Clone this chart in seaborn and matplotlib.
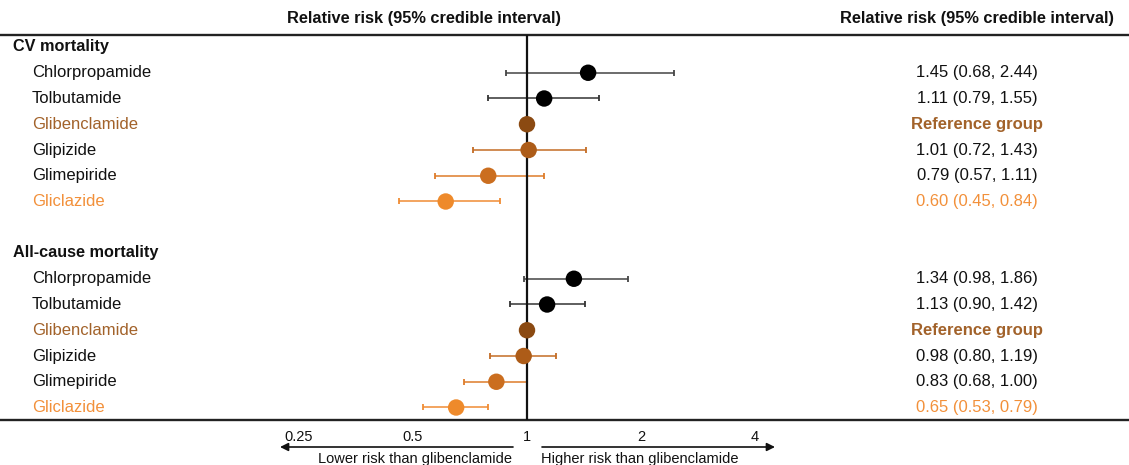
import numpy as np
import pandas as pd
import matplotlib
matplotlib.use("Agg")
import matplotlib.pyplot as plt
import matplotlib.transforms as mtransforms
import seaborn as sns

# ---------------- data ----------------
sections = ["CV mortality", "All-cause mortality"]
drugs = ["Chlorpropamide", "Tolbutamide", "Glibenclamide", "Glipizide", "Glimepiride", "Gliclazide"]
cv_rr = [1.45, 1.11, 1.00, 1.01, 0.79, 0.61]
cv_lo = [0.88, 0.79, np.nan, 0.72, 0.57, 0.46]
cv_hi = [2.44, 1.55, np.nan, 1.43, 1.11, 0.85]
ac_rr = [1.33, 1.13, 1.00, 0.98, 0.83, 0.65]
ac_lo = [0.98, 0.90, np.nan, 0.80, 0.68, 0.53]
ac_hi = [1.85, 1.42, np.nan, 1.19, 1.00, 0.79]
cv_text = ["1.45 (0.68, 2.44)", "1.11 (0.79, 1.55)", "Reference group",
           "1.01 (0.72, 1.43)", "0.79 (0.57, 1.11)", "0.60 (0.45, 0.84)"]
ac_text = ["1.34 (0.98, 1.86)", "1.13 (0.90, 1.42)", "Reference group",
           "0.98 (0.80, 1.19)", "0.83 (0.68, 1.00)", "0.65 (0.53, 0.79)"]
tick_values = [0.25, 0.5, 1, 2, 4]
tick_labels = ["0.25", "0.5", "1", "2", "4"]
header = "Relative risk (95% credible interval)"
lower_text = "Lower risk than glibenclamide"
higher_text = "Higher risk than glibenclamide"

marker_colors = {"Chlorpropamide": "#000000", "Tolbutamide": "#000000",
                 "Glibenclamide": "#8B4A12", "Glipizide": "#AD5C18",
                 "Glimepiride": "#CB6E1F", "Gliclazide": "#EE8A2B"}
bar_colors = {"Chlorpropamide": "#444444", "Tolbutamide": "#333333",
              "Glibenclamide": "#8B4A12", "Glipizide": "#C46C25",
              "Glimepiride": "#DE7C2A", "Gliclazide": "#F08C34"}
label_colors = {"Chlorpropamide": "#111111", "Tolbutamide": "#111111",
                "Glibenclamide": "#A2622A", "Glipizide": "#111111",
                "Glimepiride": "#111111", "Gliclazide": "#F2903A"}

rows = []
for s_i, (sec, rr, lo, hi, txt) in enumerate(zip(sections, [cv_rr, ac_rr], [cv_lo, ac_lo],
                                                   [cv_hi, ac_hi], [cv_text, ac_text])):
    base = s_i * 8
    for d_i, d in enumerate(drugs):
        rows.append(dict(section=sec, drug=d, pos=base + 1 + d_i, rr=rr[d_i],
                         lo=lo[d_i], hi=hi[d_i], text=txt[d_i]))
df = pd.DataFrame(rows)

# ---------------- figure ----------------
sns.set_theme(style="white")
plt.rcParams["font.family"] = ["Liberation Sans", "DejaVu Sans"]
W, H = 1129, 465
fig = plt.figure(figsize=(W / 100, H / 100), dpi=100)
top_px, bot_px = 35, 420
ax = fig.add_axes([0, 1 - bot_px / H, 1, (bot_px - top_px) / H])

x1_px, dbl = 527, 114.0
xmin = 2 ** (-x1_px / dbl)
xmax = 2 ** ((W - x1_px) / dbl)
ax.set_xscale("log")
ax.set_xlim(xmin, xmax)
row0, step = 47, 25.75
ax.set_ylim((bot_px - row0) / step, (top_px - row0) / step)

# error bars
for _, r in df.iterrows():
    if not np.isnan(r["lo"]):
        ax.errorbar([r["rr"]], [r["pos"]], xerr=[[r["rr"] - r["lo"]], [r["hi"] - r["rr"]]],
                    fmt="none", ecolor=bar_colors[r["drug"]], elinewidth=1.1,
                    capsize=2.3, capthick=1.3, zorder=2)

ax.axvline(1, color="#111111", lw=1.6, zorder=3)

sns.scatterplot(data=df, x="rr", y="pos", hue="drug", palette=marker_colors,
                s=140, edgecolor="none", legend=False, ax=ax, zorder=4)

# spines / ticks
for side in ["left", "right"]:
    ax.spines[side].set_visible(False)
for side in ["top", "bottom"]:
    ax.spines[side].set_linewidth(1.7)
    ax.spines[side].set_color("#222222")
ax.set_yticks([])
ax.set_xticks(tick_values)
ax.set_xticklabels(tick_labels, fontsize=10.5, color="#111111")
ax.minorticks_off()
ax.tick_params(axis="x", length=0, pad=7)
ax.set_xlabel("")
ax.set_ylabel("")

# labels
trans = mtransforms.blended_transform_factory(fig.transFigure, ax.transData)
fs = 12
for s_i, sec in enumerate(sections):
    ax.text(13 / W, s_i * 8, sec, transform=trans, fontsize=11.7, fontweight="bold",
            va="center", ha="left", color="#111111")
for _, r in df.iterrows():
    ax.text(32 / W, r["pos"], r["drug"], transform=trans, fontsize=fs, va="center",
            ha="left", color=label_colors[r["drug"]])
    is_ref = r["text"] == "Reference group"
    ax.text(977 / W, r["pos"], r["text"], transform=trans, fontsize=fs, va="center",
            ha="center", color=label_colors[r["drug"]] if r["drug"] in ("Glibenclamide", "Gliclazide") else "#111111",
            fontweight="bold" if is_ref else "normal")

fig.text(424 / W, 1 - 18 / H, header, fontsize=11.8, fontweight="bold", ha="center",
         va="center", color="#111111")
fig.text(977 / W, 1 - 18 / H, header, fontsize=11.8, fontweight="bold", ha="center",
         va="center", color="#111111")

# direction arrows
atr = mtransforms.blended_transform_factory(ax.transData, fig.transFigure)
ya = 1 - 447 / H
ax.annotate("", xy=(2 ** (-247 / dbl), ya), xytext=(2 ** (-14 / dbl), ya),
            xycoords=atr, textcoords=atr,
            arrowprops=dict(arrowstyle="-|>", lw=1.2, color="#111111", mutation_scale=12,
                            shrinkA=0, shrinkB=0), annotation_clip=False)
ax.annotate("", xy=(2 ** (248 / dbl), ya), xytext=(2 ** (15 / dbl), ya),
            xycoords=atr, textcoords=atr,
            arrowprops=dict(arrowstyle="-|>", lw=1.2, color="#111111", mutation_scale=12,
                            shrinkA=0, shrinkB=0), annotation_clip=False)
fig.text(415 / W, 1 - 452 / H, lower_text, fontsize=10.5, ha="center", va="top", color="#111111")
fig.text(640 / W, 1 - 452 / H, higher_text, fontsize=10.5, ha="center", va="top", color="#111111")

fig.savefig("out.png", dpi=100)
